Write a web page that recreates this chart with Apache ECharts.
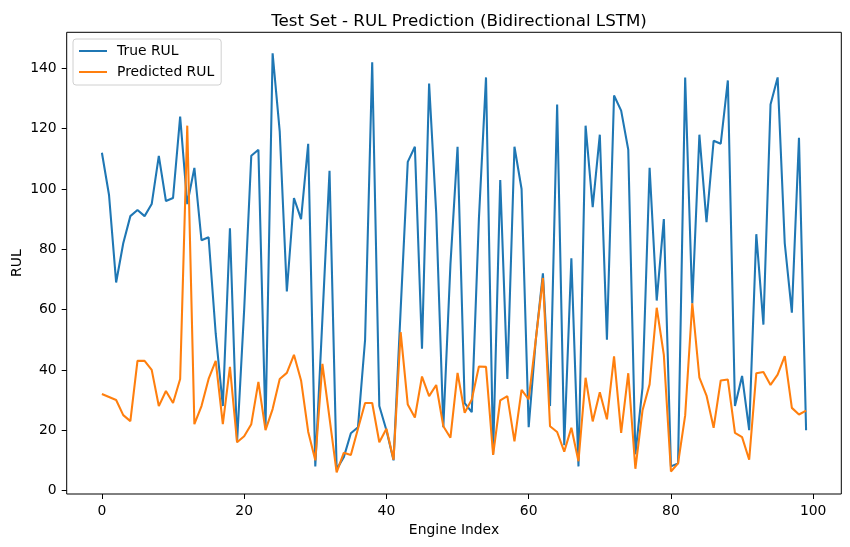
<!DOCTYPE html>
<html>
<head>
<meta charset="utf-8">
<script src="https://cdn.jsdelivr.net/npm/echarts@6/dist/echarts.min.js"></script>
<style>
html,body{margin:0;padding:0;background:#fff;}
#chart{width:850px;height:547px;}
</style>
</head>
<body>
<div id="chart"></div>
<script>
const trueRUL = [112,98,69,82,91,93,91,95,111,96,97,124,95,107,83,84,52,28,87,16,
  60,111,113,21,145,119,66,97,90,115,8,57,106,7,11,19,21,50,142,28,
  20,10,60,109,114,47,135,92,21,75,114,29,26,90,137,12,103,37,114,100,
  21,50,72,28,128,15,77,8,121,94,118,50,131,126,113,12,34,107,63,90,
  8,9,137,62,118,89,116,115,136,28,38,20,85,55,128,137,82,59,117,20];
const predRUL = [32,31,30,25,23,43,43,40,28,33,29,37,121,22,28,37,43,22,41,16,
  18,22,36,20,27,37,39,45,36.5,19.5,10,42,24,6,12.5,11.8,20.5,29,29,16,
  20.5,10.2,52.5,28.5,24.2,37.8,31.3,35,21.3,17.5,39,25.8,30.2,41.1,41,11.8,29.9,31.3,16.3,33.4,
  30.2,50,70.5,21.3,19.4,12.9,20.8,9.7,37.4,22.9,32.6,23.6,44.5,19.1,38.9,7.2,26.5,35.2,60.6,45,
  6.3,9,24.9,62.1,37.4,31.5,20.8,36.5,36.8,19.1,17.7,10.2,38.9,39.3,35,38.4,44.6,27.4,25.2,26.5];
const xTicks = [0,20,40,60,80,100];
const yTicks = [0,20,40,60,80,100,120,140];
const seriesNames = ['True RUL','Predicted RUL'];
const titleText = 'Test Set - RUL Prediction (Bidirectional LSTM)';
const xName = 'Engine Index';
const yName = 'RUL';

const FONT = 'DejaVu Sans';
const FS = 13.9;
const chart = echarts.init(document.getElementById('chart'), null, {renderer:'canvas'});
const toPairs = arr => arr.map((v,i)=>[i,v]);
const nameStyle = {color:'#000', fontFamily:FONT, fontSize:FS};
chart.setOption({
  animation:false,
  backgroundColor:'#fff',
  title:{text:titleText, left:454, textAlign:'center', top:8,
    textStyle:{color:'#000', fontFamily:FONT, fontSize:16.7, fontWeight:'normal'}},
  legend:{
    data:seriesNames, orient:'vertical', left:73, top:39,
    backgroundColor:'rgba(255,255,255,0.8)', borderColor:'#d0d0d0', borderWidth:1, borderRadius:3,
    padding:[4,7,5,6], itemGap:5, itemWidth:28, itemHeight:2,
    icon:'rect',
    textStyle:{color:'#000', fontFamily:FONT, fontSize:FS, lineHeight:16, padding:[0,0,0,5]}
  },
  grid:{left:66.7, right:8.7, top:32.3, bottom:53, show:true, borderColor:'#000', borderWidth:1,
    containLabel:false, outerBoundsMode:'none'},
  xAxis:{
    type:'value', min:-4.95, max:103.95, name:xName, nameLocation:'middle', nameGap:29,
    nameMoveOverlap:false,
    nameTextStyle:nameStyle, splitLine:{show:false},
    axisLine:{show:false, onZero:false},
    axisTick:{show:true, inside:false, length:5, customValues:xTicks, lineStyle:{color:'#000', width:1}},
    axisLabel:{color:'#000', fontFamily:FONT, fontSize:FS, margin:10, customValues:xTicks}
  },
  yAxis:{
    type:'value', min:-1.16, max:151.96, name:yName, nameLocation:'middle', nameGap:42,
    nameMoveOverlap:false,
    nameRotate:90, nameTextStyle:nameStyle, splitLine:{show:false},
    axisLine:{show:false, onZero:false},
    axisTick:{show:true, inside:false, length:5, customValues:yTicks, lineStyle:{color:'#000', width:1}},
    axisLabel:{color:'#000', fontFamily:FONT, fontSize:FS, margin:10, customValues:yTicks}
  },
  series:[
    {name:seriesNames[0], type:'line', data:toPairs(trueRUL), showSymbol:false, symbol:'none',
      lineStyle:{color:'#1f77b4', width:2.08}, itemStyle:{color:'#1f77b4'}},
    {name:seriesNames[1], type:'line', data:toPairs(predRUL), showSymbol:false, symbol:'none',
      lineStyle:{color:'#ff7f0e', width:2.08}, itemStyle:{color:'#ff7f0e'}}
  ]
});
</script>
</body>
</html>
